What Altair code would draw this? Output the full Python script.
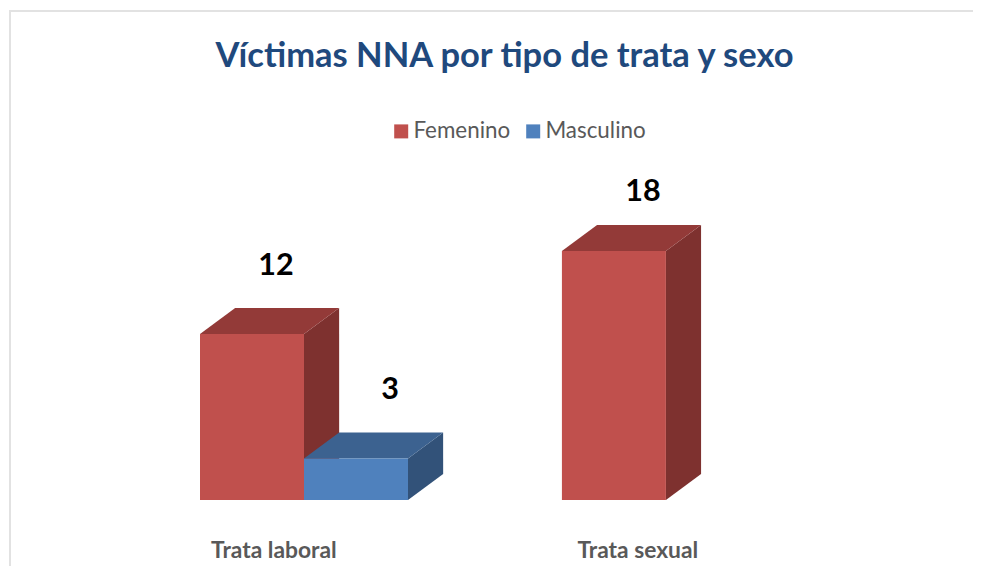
import altair as alt
import pandas as pd

categories = ["Trata laboral", "Trata sexual"]
series_names = ["Femenino", "Masculino"]
femenino = [12, 18]
masculino = [3, None]

front_colors = ["#C0504D", "#4F81BD"]
top_colors = ["#933A38", "#3C6290"]
side_colors = ["#7E312F", "#325279"]

GROUP_PITCH = 3.48
DEPTH_X = 0.338
DEPTH_Y = 1.88
TICK_OFFSET = 0.705
TICK_PITCH = 3.5

rows_front, rows_side, rows_top = [], [], []
rows_label = []
label_dx = {(0, 0): 24, (0, 1): 34, (1, 0): 29}
label_dy = {(0, 0): -42, (0, 1): -43, (1, 0): -33}
for s, vals in enumerate([femenino, masculino]):
    for c, v in enumerate(vals):
        if v is None:
            continue
        left = c * GROUP_PITCH + s
        right = left + 1
        bid = f"{s}-{c}"
        rows_front.append(dict(serie=series_names[s], x=left, x2=right, y=v, y2=0))
        rows_side += [
            dict(bar=bid, s=s, x=right, y=v, y2=0),
            dict(bar=bid, s=s, x=right + DEPTH_X, y=v + DEPTH_Y, y2=DEPTH_Y),
        ]
        rows_top += [
            dict(bar=bid, s=s, x=left, y=v, y2=v),
            dict(bar=bid, s=s, x=left + DEPTH_X, y=v + DEPTH_Y, y2=v),
            dict(bar=bid, s=s, x=right, y=v + DEPTH_Y, y2=v),
            dict(bar=bid, s=s, x=right + DEPTH_X, y=v + DEPTH_Y, y2=v + DEPTH_Y),
        ]
        rows_label.append(dict(x=(left + right) / 2, y=v + DEPTH_Y, t=str(v),
                               dx=label_dx[(c, s)], dy=label_dy[(c, s)]))

front = pd.DataFrame(rows_front)
side = pd.DataFrame(rows_side)
top = pd.DataFrame(rows_top)

W, H = 773, 492
xs = alt.Scale(domain=[0, W / 104], nice=False, zero=False)
ys = alt.Scale(domain=[0, H / 13.83], nice=False, zero=False)
FONT = "Lato"
ticks = [c * TICK_PITCH + TICK_OFFSET for c in range(len(categories))]
label_expr = f"datum.value < {GROUP_PITCH} ? '{categories[0]}' : '{categories[1]}'"

x_axis = alt.Axis(
    values=ticks, labelExpr=label_expr, domain=False, ticks=False, grid=False, title=None,
    labelFont=FONT, labelFontSize=22.8, labelFontWeight="bold", labelColor="#595959",
    labelPadding=39, labelFlush=False, labelOverlap=False)
X = alt.X("x:Q", scale=xs, axis=x_axis)
Y = alt.Y("y:Q", scale=ys, axis=None)

layers = []
for s in range(2):
    sd = side[side.s == s]
    td = top[top.s == s]
    fd = front[front.serie == series_names[s]]
    a = alt.Chart(sd).mark_area(color=side_colors[s], opacity=1, interpolate="linear").encode(
        x=X, y=Y, y2="y2:Q", detail="bar:N")
    b = alt.Chart(td).mark_area(color=top_colors[s], opacity=1, interpolate="linear").encode(
        x=X, y=Y, y2="y2:Q", detail="bar:N")
    f = alt.Chart(fd).mark_rect().encode(
        x=X, x2="x2:Q", y=Y, y2="y2:Q",
        color=alt.Color("serie:N", scale=alt.Scale(domain=series_names, range=front_colors),
                        legend=alt.Legend(
                            title=None, orient="none", direction="horizontal",
                            legendX=190, legendY=112, symbolType="square", symbolSize=196,
                            symbolStrokeWidth=0, symbolOpacity=1, labelFont=FONT, labelFontSize=22.4,
                            labelColor="#595959", labelOffset=1, columnPadding=11)),
    )
    layers += [a, b, f]

texts = []
for r in rows_label:
    texts.append(alt.Chart(pd.DataFrame([r])).mark_text(
        font=FONT, fontSize=30.5, fontWeight="bold", color="#000000", dx=r["dx"], dy=r["dy"]
    ).encode(x=X, y=Y, text="t:N"))

dummy = pd.DataFrame({"a": [0]})
border_top = alt.Chart(dummy).mark_rule(color="#E2E2E2", strokeWidth=2).encode(
    x=alt.value(-190), x2=alt.value(W + 10), y=alt.value(3))
border_left = alt.Chart(dummy).mark_rule(color="#E2E2E2", strokeWidth=2).encode(
    x=alt.value(-190), y=alt.value(2), y2=alt.value(H + 80))

chart = alt.layer(border_top, border_left, *layers, *texts).properties(
    width=W, height=H,
    padding={"left": 192, "top": 0, "right": 0, "bottom": 66},
    autosize=alt.AutoSizeParams(type="none"),
    title=alt.TitleParams("Víctimas NNA por tipo de trata y sexo", anchor="middle", dx=-82, dy=83,
                          font=FONT, fontSize=34.5, fontWeight="bold", color="#1F497D",
                          baseline="middle", offset=0),
).configure_view(stroke=None).resolve_scale(color="shared")

chart.save("out.html", embed_options={"renderer": "svg", "actions": False})
